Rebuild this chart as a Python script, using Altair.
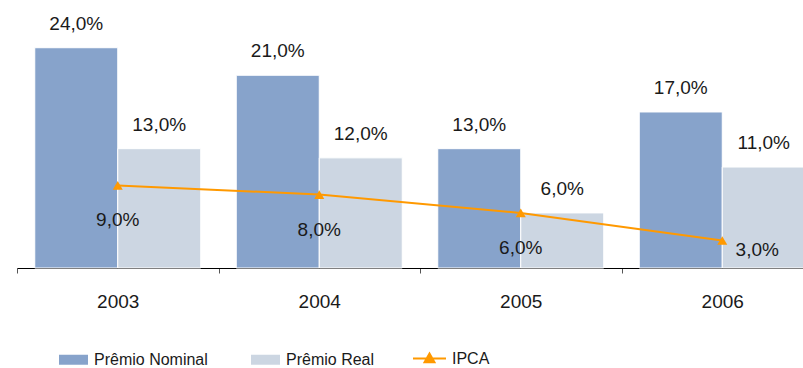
import altair as alt
import pandas as pd

# Prêmio nominal, prêmio real e IPCA por ano (%)
anos = ["2003", "2004", "2005", "2006"]
premio_nominal = [24.0, 21.0, 13.0, 17.0]
premio_real = [13.0, 12.0, 6.0, 11.0]
ipca = [9.0, 8.0, 6.0, 3.0]

series = ["Prêmio Nominal", "Prêmio Real"]
cores = ["#87A3CB", "#CCD6E2"]
laranja = "#FF9900"
texto = "#1a1a1a"
FONTE = "Liberation Sans"


def rotulo(v):
    return f"{v:.1f}".replace(".", ",") + "%"


barras = pd.DataFrame(
    [
        {"ano": a, "serie": s, "valor": v, "rotulo": rotulo(v)}
        for s, vals in zip(series, [premio_nominal, premio_real])
        for a, v in zip(anos, vals)
    ]
)
inflacao = pd.DataFrame(
    {"ano": anos, "valor": ipca, "serie": "IPCA", "rotulo": [rotulo(v) for v in ipca]}
)

x = alt.X(
    "ano:N",
    title=None,
    sort=anos,
    scale=alt.Scale(range=[0, 806], paddingInner=0, paddingOuter=0),
    axis=alt.Axis(
        tickBand="extent",
        labelAngle=0,
        domainColor="#000000",
        domainWidth=1,
        tickColor="#555555",
        tickSize=5,
        labelFont=FONTE,
        labelFontSize=19,
        labelColor=texto,
        labelPadding=19,
        grid=False,
    ),
)
y = alt.Y("valor:Q", scale=alt.Scale(domain=[0, 29.2], nice=False), axis=None)
x_off = alt.XOffset(
    "serie:N", sort=series, scale=alt.Scale(paddingInner=0, paddingOuter=0.214)
)

colunas = (
    alt.Chart(barras)
    .mark_bar(stroke="white", strokeWidth=1)
    .encode(
        x=x,
        xOffset=x_off,
        y=y,
        fill=alt.Fill(
            "serie:N",
            scale=alt.Scale(domain=series, range=cores),
            legend=alt.Legend(
                title=None,
                orient="none",
                legendX=42,
                legendY=345,
                direction="horizontal",
                symbolType="M-1,-0.345H1V0.345H-1Z",
                symbolSize=841,
                symbolStrokeWidth=0,
                labelFont=FONTE,
                labelFontSize=16,
                labelColor=texto,
                labelOffset=6,
                columnPadding=43,
                padding=0,
            ),
        ),
    )
)

rotulos_barras = (
    alt.Chart(barras)
    .mark_text(dy=-18, baseline="alphabetic", font=FONTE, fontSize=19, color=texto)
    .encode(x=x, xOffset=x_off, y=y, text="rotulo:N")
)

linha = (
    alt.Chart(inflacao)
    .mark_line(strokeWidth=2)
    .encode(
        x=x,
        y=y,
        stroke=alt.Stroke(
            "serie:N",
            scale=alt.Scale(domain=["IPCA"], range=[laranja]),
            legend=alt.Legend(
                title=None,
                orient="none",
                legendX=395,
                legendY=341,
                direction="horizontal",
                symbolType="M-1,0H1M0,-0.3L0.3,0.22L-0.3,0.22Z",
                symbolSize=1089,
                symbolFillColor=laranja,
                symbolStrokeColor=laranja,
                symbolStrokeWidth=2,
                labelFont=FONTE,
                labelFontSize=16,
                labelColor=texto,
                labelOffset=5,
                padding=0,
            ),
        ),
    )
)

marcadores = (
    alt.Chart(inflacao)
    .mark_point(shape="triangle-up", size=100, filled=True, color=laranja, opacity=1)
    .encode(x=x, y=y)
)

rotulos_ipca = (
    alt.Chart(inflacao)
    .transform_filter(alt.datum.ano != "2006")
    .mark_text(dy=35, baseline="middle", font=FONTE, fontSize=19, color=texto)
    .encode(x=x, y=y, text="rotulo:N")
)

rotulo_ipca_final = (
    alt.Chart(inflacao)
    .transform_filter(alt.datum.ano == "2006")
    .mark_text(dx=35, dy=10, baseline="middle", font=FONTE, fontSize=19, color=texto)
    .encode(x=x, y=y, text="rotulo:N")
)

chart = (
    alt.layer(colunas, rotulos_barras, linha, marcadores, rotulos_ipca, rotulo_ipca_final)
    .properties(
        width=786,
        height=268,
        autosize=alt.AutoSizeParams(type="none"),
        padding={"left": 17, "top": 0, "right": 0, "bottom": 100},
    )
    .configure_view(stroke=None)
)

chart.save("out.html", embed_options={"renderer": "svg", "actions": False})
